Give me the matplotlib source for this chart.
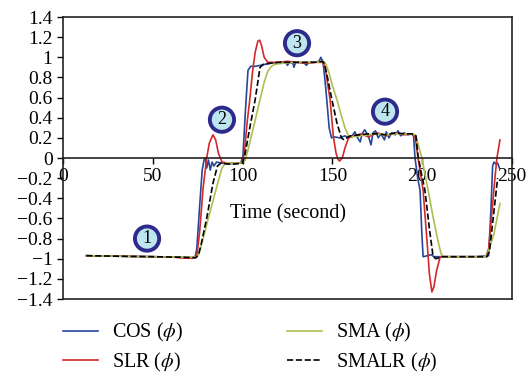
import numpy as np
import matplotlib
matplotlib.use("Agg")
import matplotlib.pyplot as plt
from matplotlib.ticker import FuncFormatter

plt.rcParams['font.family'] = ['Liberation Serif', 'DejaVu Serif']
plt.rcParams['mathtext.fontset'] = 'stix'

# (time, value)
cos_pts = [(13,-0.97),(30,-0.975),(50,-0.98),(65,-0.985),(73.5,-0.99),(74.5,-0.9),(76,-0.5),
           (77.5,-0.12),(78.5,-0.02),(79.3,0.0),(80,-0.1),(81,-0.02),(82,-0.12),(83,-0.04),
           (84,-0.08),(85.5,-0.04),(88,-0.05),(92,-0.06),(96,-0.05),(99,-0.05),(100.2,0.02),
           (101.5,0.45),(103,0.87),(104.5,0.91),(107,0.91),(110,0.92),(115,0.94),(120,0.95),
           (124,0.95),(125,0.92),(126,0.95),(128,0.94),(128.6,0.9),(129.5,0.95),(132,0.95),
           (134.5,0.94),(135.5,0.92),(137,0.95),(140,0.95),(142.5,0.96),(143.6,1.0),(144.8,0.95),
           (146,0.75),(147,0.55),(148.2,0.3),(149.5,0.2),(151,0.21),(154,0.2),(157,0.22),
           (159,0.2),(161,0.22),(162.5,0.26),(164,0.2),(165.5,0.16),(166.5,0.24),(168,0.28),
           (170,0.22),(171.5,0.13),(172.6,0.25),(174,0.27),(175.5,0.2),(177,0.24),(179,0.18),
           (180,0.26),(181.5,0.2),(183,0.25),(185,0.23),(186.5,0.27),(188,0.22),(190,0.25),
           (192,0.23),(194,0.24),(195.2,0.22),(196,0.0),(197.5,-0.2),(198.8,-0.32),(199.8,-0.75),
           (200.5,-0.98),(203,-0.97),(205,-0.96),(206.5,-0.98),(210,-0.98),(220,-0.98),
           (230,-0.98),(237,-0.97),(238.3,-0.5),(239.2,-0.08),(240,-0.04),(241,-0.06),
           (242,-0.05),(243,-0.1)]

slr_pts = [(13,-0.97),(30,-0.975),(50,-0.98),(62,-0.985),(68,-0.995),(72,-0.995),(74.5,-0.97),
           (76,-0.75),(78,-0.3),(80,0.0),(81.5,0.15),(83.5,0.23),(85,0.18),(86.5,0.05),
           (88.5,-0.04),(92,-0.05),(96,-0.05),(99.5,-0.05),(101,0.05),(102.5,0.35),(104,0.58),
           (105.5,0.85),(107,1.05),(108.5,1.16),(109.5,1.17),(110.5,1.12),(112,1.0),(114,0.95),
           (120,0.95),(125,0.96),(130,0.95),(135,0.94),(140,0.95),(144.5,0.95),(146,0.9),
           (147.5,0.72),(148.7,0.58),(150.5,0.22),(152,0.05),(153,-0.01),(154,-0.03),(155.5,0.0),
           (157,0.1),(159,0.2),(162,0.22),(166,0.24),(170,0.21),(175,0.25),(180,0.22),(185,0.25),
           (190,0.23),(194,0.24),(196,0.22),(197.7,0.0),(200.5,-0.32),(203,-0.9),(204,-1.15),
           (205.4,-1.33),(206.5,-1.28),(208,-1.12),(210,-0.98),(220,-0.98),(235.5,-0.98),
           (237,-0.9),(239,-0.5),(240.5,-0.2),(241.6,0.0),(243.3,0.18)]

sma_pts = [(13,-0.97),(30,-0.975),(50,-0.98),(65,-0.985),(74,-0.985),(75.5,-0.96),(77,-0.87),
           (80,-0.66),(83,-0.46),(86.3,-0.24),(88.5,-0.1),(90.5,-0.05),(95,-0.05),(100,-0.05),
           (101.5,-0.02),(103,0.08),(106,0.3),(109.7,0.58),(112,0.75),(114,0.86),(116,0.91),
           (118,0.93),(122,0.94),(130,0.95),(140,0.95),(145,0.96),(146.5,0.93),(148,0.85),
           (150,0.72),(152.5,0.58),(155,0.42),(157,0.3),(159,0.22),(161,0.21),(165,0.22),
           (170,0.23),(175,0.24),(180,0.23),(185,0.24),(190,0.24),(195,0.24),(196.5,0.22),
           (198,0.12),(199.8,0.0),(203.3,-0.32),(206,-0.58),(208.5,-0.8),(210.5,-0.95),
           (212,-0.98),(220,-0.98),(235,-0.98),(236.5,-0.95),(240,-0.75),(243.3,-0.45)]

smalr_pts = [(13,-0.97),(30,-0.975),(50,-0.98),(65,-0.985),(74,-0.99),(75.5,-0.96),(77,-0.85),
             (80,-0.6),(83.5,-0.25),(86,-0.08),(88,-0.05),(92,-0.06),(96,-0.06),(100,-0.05),
             (101.5,0.05),(104,0.3),(107,0.58),(109.7,0.9),(111.5,0.93),(115,0.94),(120,0.95),
             (130,0.95),(140,0.95),(144.5,0.96),(145.5,0.94),(147.5,0.78),(149.7,0.58),
             (152.5,0.35),(155,0.2),(156.5,0.18),(158,0.2),(160,0.22),(165,0.23),(170,0.24),
             (175,0.24),(180,0.23),(185,0.25),(190,0.24),(195,0.24),(196.5,0.22),(197.7,0.02),
             (199.5,-0.15),(201.5,-0.32),(204,-0.7),(206,-0.97),(207.5,-1.0),(209.5,-0.99),
             (211,-0.98),(220,-0.98),(236,-0.98),(237.5,-0.92),(239.5,-0.6),(242,-0.2)]

labels = ["COS ($\\phi$)", "SLR ($\\phi$)", "SMA ($\\phi$)", "SMALR ($\\phi$)"]
marks = ["1", "2", "3", "4"]
mark_x = [46.8, 88.5, 130.3, 179.3]
mark_y = [-0.8, 0.38, 1.14, 0.46]


def tick_fmt(v, pos):
    v = round(v, 1)
    if abs(v) < 1e-9:
        return "0"
    return ('%g' % v).replace('-', '\u2212')


fig = plt.figure(figsize=(5.27, 3.76), dpi=100)
ax = fig.add_axes([63/527, 1-299/376, 449/527, 282/376])

series = [cos_pts, slr_pts, sma_pts, smalr_pts]
colors = ['#27479a', '#d4282a', '#abc050', 'black']
styles = ['-', '-', '-', '--']
handles = []
for pts, c, ls, lab in zip(series, colors, styles, labels):
    d = np.array(pts).T
    h, = ax.plot(d[0], d[1], color=c, ls=ls, lw=1.2, label=lab)
    handles.append(h)

for m, mx, my in zip(marks, mark_x, mark_y):
    ax.text(mx, my, m, fontsize=13, ha='center', va='center',
            bbox=dict(boxstyle='circle,pad=0.2', fc='#bde6f0', ec='#2e2a8c', lw=2.8))

ax.set_xlim(0, 250)
ax.set_ylim(-1.4, 1.4)
ax.set_xticks(range(0, 251, 50))
ax.set_yticks(np.arange(-1.4, 1.41, 0.2))
ax.yaxis.set_major_formatter(FuncFormatter(tick_fmt))
ax.spines['bottom'].set_position(('data', 0))
ax.plot([0, 1], [0, 0], color='#222222', lw=1.2, transform=ax.transAxes, clip_on=False)
for s in ax.spines.values():
    s.set_linewidth(1.2)
    s.set_color('#222222')
ax.tick_params(labelsize=14, length=4, width=1, pad=3.5)
ax.set_xlabel("Time (second)", fontsize=14.5)
ax.xaxis.set_label_coords(0.5, 0.336)

leg_kw = dict(loc='center left', ncol=1, frameon=False, fontsize=14.5, handlelength=1.75,
              handletextpad=0.7, labelspacing=0.3, borderpad=0, borderaxespad=0)
fig.legend(handles[:2], labels[:2], bbox_to_anchor=(63/527, 1-347.5/376), **leg_kw)
fig.legend(handles[2:], labels[2:], bbox_to_anchor=(287/527, 1-347.5/376), **leg_kw)

fig.savefig("out.png", dpi=100)
